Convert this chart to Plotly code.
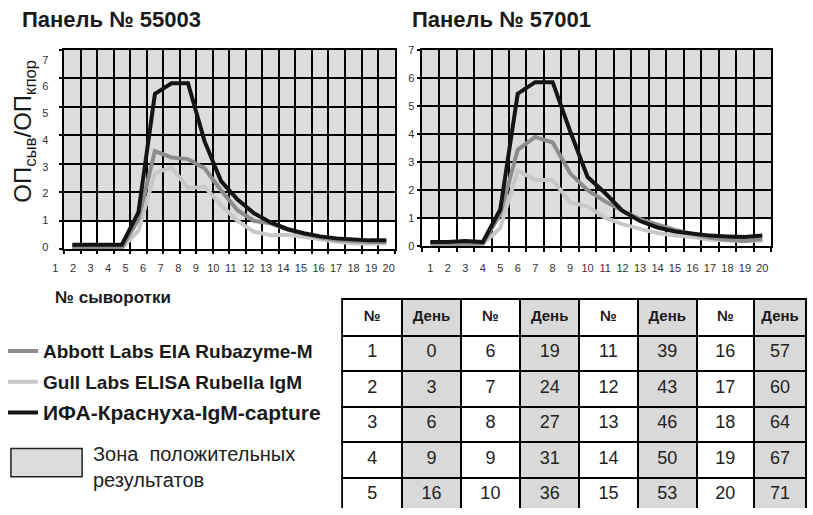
import plotly.graph_objects as go

W, H = 813, 515
NARROW = "Liberation Sans Narrow, Liberation Sans, Arial, sans-serif"

# ---------------- data ----------------
serum = list(range(1, 21))
tick_text = [str(n) for n in serum]

abbott_55003 = [0.08, 0.07, 0.06, 0.07, 1.05, 3.45, 3.23, 3.17, 2.85, 2.08,
                1.38, 1.00, 0.92, 0.70, 0.55, 0.42, 0.33, 0.28, 0.26, 0.26]
gull_55003 = [0.05, 0.04, 0.04, 0.05, 0.66, 2.68, 2.89, 2.15, 2.20, 1.56,
              1.00, 0.62, 0.50, 0.52, 0.45, 0.35, 0.27, 0.22, 0.20, 0.22]
ifa_55003 = [0.17, 0.17, 0.17, 0.17, 1.30, 5.46, 5.83, 5.83, 3.80, 2.40,
             1.75, 1.27, 0.95, 0.72, 0.57, 0.46, 0.39, 0.34, 0.32, 0.32]

abbott_57001 = [0.09, 0.09, 0.10, 0.09, 1.14, 3.44, 3.90, 3.70, 2.60, 2.00,
                1.60, 1.26, 0.97, 0.76, 0.58, 0.44, 0.30, 0.23, 0.19, 0.26]
gull_57001 = [0.08, 0.08, 0.08, 0.08, 0.65, 2.70, 2.36, 2.36, 1.57, 1.42,
              1.02, 0.79, 0.62, 0.47, 0.38, 0.33, 0.23, 0.21, 0.19, 0.21]
ifa_57001 = [0.15, 0.15, 0.19, 0.15, 1.31, 5.44, 5.85, 5.85, 4.10, 2.47,
             1.90, 1.26, 0.90, 0.67, 0.53, 0.44, 0.38, 0.35, 0.33, 0.38]

y_ticks = list(range(0, 8))
positive_threshold = 1
y_max = 7

series_names = ["Abbott Labs EIA Rubazyme-M", "Gull Labs ELISA Rubella IgM",
                "ИФА-Краснуха-IgM-capture"]
series_colors = ["#8c8c8c", "#c8c8c8", "#141414"]

# table of serum day numbers
tbl_no = [[1, 2, 3, 4, 5], [6, 7, 8, 9, 10], [11, 12, 13, 14, 15], [16, 17, 18, 19, 20]]
tbl_day = [[0, 3, 6, 9, 16], [19, 24, 27, 31, 36], [39, 43, 46, 50, 53], [57, 60, 64, 67, 71]]

panel_titles = ["Панель № 55003", "Панель № 57001"]
zone_text = "Зона  положительных<br>результатов"


def px_x(p):
    return p / W


def px_y(p):
    return 1 - p / H


fig = go.Figure()

panels = [
    (abbott_55003, gull_55003, ifa_55003, "x", "y"),
    (abbott_57001, gull_57001, ifa_57001, "x2", "y2"),
]
for pi, (ab, gu, ifa, xa, ya) in enumerate(panels):
    vals = [ab, gu, ifa]
    for si in [1, 0, 2]:
        name = series_names[si]
        if si == 2:
            name = "<span style='font-size:21px'>" + name + "</span>"
        fig.add_trace(go.Scatter(
            x=serum, y=vals[si], mode="lines", name=name,
            line=dict(color=series_colors[si], width=4),
            xaxis=xa, yaxis=ya, showlegend=(pi == 0),
            legendgroup=series_names[si], legendrank=si + 1,
            hoverinfo="skip"))

# empty trace so the tick-label axes of the left panel exist
fig.add_trace(go.Scatter(x=[None], y=[None], xaxis="x3", yaxis="y3", showlegend=False,
                         hoverinfo="skip"))

grid_common = dict(showgrid=True, gridcolor="black", gridwidth=2,
                   showline=True, linecolor="black", linewidth=2, mirror=True,
                   zeroline=False, fixedrange=True)
tickfont = dict(family=NARROW, size=11, color="#333333")

fig.update_layout(
    width=W, height=H,
    margin=dict(l=0, r=0, t=0, b=0),
    paper_bgcolor="white", plot_bgcolor="rgba(0,0,0,0)",
    xaxis=dict(domain=[px_x(61.7), px_x(396)], range=[0.5, 20.5],
               tick0=0.5, dtick=1, ticks="outside", ticklen=3, tickwidth=2,
               tickcolor="black", showticklabels=False, anchor="y", **grid_common),
    yaxis=dict(domain=[px_y(249.3), px_y(45)], range=[0, y_max],
               tickvals=y_ticks, ticks="outside", ticklen=3, tickwidth=2,
               tickcolor="black", showticklabels=False, anchor="x", **grid_common),
    xaxis2=dict(domain=[px_x(423.3), px_x(776.7)], range=[0.5, 20.5],
                tickvals=serum, ticktext=tick_text, ticks="", showgrid=False,
                showline=True, linecolor="black", linewidth=2, mirror=True,
                zeroline=False, fixedrange=True, tickfont=tickfont,
                ticklabelstandoff=11,
                minor=dict(tick0=0.5, dtick=1, showgrid=True, gridcolor="black",
                           gridwidth=2, ticks="outside", ticklen=4, tickwidth=2,
                           tickcolor="black"),
                anchor="y2"),
    yaxis2=dict(domain=[px_y(246), px_y(45)], range=[0, y_max],
                tickvals=y_ticks, ticks="outside", ticklen=3, tickwidth=2,
                tickcolor="black", tickfont=tickfont, anchor="x2",
                ticklabelstandoff=0, **grid_common),
    xaxis3=dict(domain=[px_x(53), px_x(390)], range=[1, 20], tickvals=serum,
                ticktext=tick_text, showgrid=False, showline=False, zeroline=False,
                ticks="", tickfont=tickfont, anchor="y3", ticklabelstandoff=13,
                fixedrange=True),
    yaxis3=dict(domain=[px_y(246.7), px_y(55)], range=[0, y_max], tickvals=y_ticks,
                showgrid=False, showline=False, zeroline=False, ticks="",
                tickfont=tickfont, anchor="x3", ticklabelstandoff=6, fixedrange=True),
    legend=dict(x=px_x(0), y=px_y(334), xanchor="left", yanchor="top",
                bgcolor="rgba(0,0,0,0)", traceorder="grouped", tracegroupgap=3,
                itemwidth=30,
                font=dict(family=NARROW, size=19, color="#1a1a1a", weight="bold")),
    showlegend=True,
)

# positive-result zone in each panel
for xa, ya in [("x", "y"), ("x2", "y2")]:
    fig.add_shape(type="rect", xref=xa + " domain", yref=ya, x0=0, x1=1,
                  y0=positive_threshold, y1=y_max, fillcolor="#dcdcdc",
                  line=dict(width=0), layer="below")

# legend box for the zone
fig.add_shape(type="rect", xref="paper", yref="paper", x0=px_x(8), x1=px_x(80),
              y0=px_y(482), y1=px_y(453), fillcolor="#dcdcdc",
              line=dict(color="#222222", width=1.5))
fig.add_annotation(text=zone_text, xref="paper", yref="paper",
                   x=px_x(89), y=px_y(472), xanchor="left", yanchor="middle",
                   align="left", showarrow=False,
                   font=dict(family=NARROW, size=20, color="#222222"))

# titles
for t, x0 in zip(panel_titles, [17, 412]):
    fig.add_annotation(text="<b>" + t + "</b>", xref="paper", yref="paper",
                       x=px_x(x0), y=px_y(14), xanchor="left", yanchor="middle",
                       showarrow=False, font=dict(family=NARROW, size=22, color="#1a1a1a"))

fig.add_annotation(text="<b>№ сыворотки</b>", xref="paper", yref="paper",
                   x=px_x(51), y=px_y(298), xanchor="left", yanchor="middle",
                   showarrow=False, font=dict(family=NARROW, size=17, color="#1a1a1a"))

fig.add_annotation(text="ОП<sub>сыв</sub>/ОП<sub>кпор</sub>", xref="paper", yref="paper",
                   x=px_x(21), y=px_y(128), xanchor="center", yanchor="middle",
                   textangle=-90, showarrow=False,
                   font=dict(family=NARROW, size=24, color="#1a1a1a"))

# table
header_vals = []
cell_vals = []
fills = []
for nos, days in zip(tbl_no, tbl_day):
    header_vals += ["<b>№</b>", "<b>День</b>"]
    cell_vals += [nos, days]
    fills += ["white", "#d9d9d9"]

fig.add_trace(go.Table(
    domain=dict(x=[px_x(343), 1], y=[0, px_y(300)]),
    columnwidth=[60.7, 59.3, 60, 60, 59, 60, 57.7, 53],
    header=dict(values=header_vals, fill_color=fills, align="center", height=36.7,
                line=dict(color="black", width=2),
                font=dict(family=NARROW, size=15, color="#1a1a1a")),
    cells=dict(values=cell_vals, fill_color=fills, align="center", height=35.5,
               line=dict(color="black", width=2),
               font=dict(family=NARROW, size=18, color="#222222")),
))

fig.write_html("out.html", config={"displayModeBar": False},
               post_script="document.body.style.margin='0';")
